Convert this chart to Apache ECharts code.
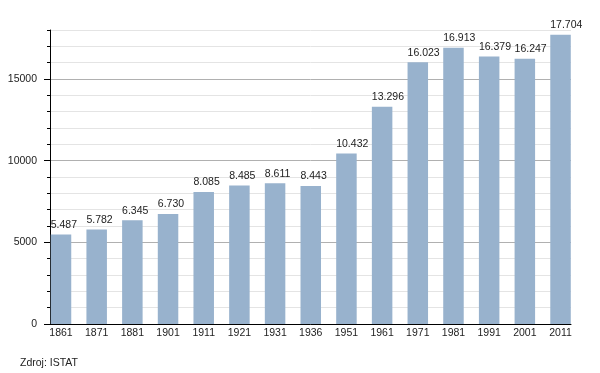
<!DOCTYPE html>
<html>
<head>
<meta charset="utf-8">
<script src="https://cdn.jsdelivr.net/npm/echarts@6/dist/echarts.min.js"></script>
<style>html,body{margin:0;padding:0;background:#fff}#c{width:600px;height:373px}</style>
</head>
<body>
<div id="c"></div>
<script>
const years = ['1861','1871','1881','1901','1911','1921','1931','1936','1951','1961','1971','1981','1991','2001','2011'];
const population = [5487, 5782, 6345, 6730, 8085, 8485, 8611, 8443, 10432, 13296, 16023, 16913, 16379, 16247, 17704];
const yTickLabels = [0, 5000, 10000, 15000];
const sourceText = 'Zdroj: ISTAT';

const FONT = 'Liberation Sans, Arial, sans-serif';
function fmt(v) {
  const t = Math.floor(v / 1000), r = v % 1000;
  return t > 0 ? t + '.' + String(r).padStart(3, '0') : String(r);
}
const chart = echarts.init(document.getElementById('c'), null, {renderer: 'canvas'});
const gTop = 30, gBottom = 49;
const BAR_W = 20.5;
chart.setOption({
  animation: false,
  backgroundColor: '#ffffff',
  textStyle: {fontFamily: FONT},
  grid: [
    {left: 50, right: 29, top: gTop, bottom: gBottom},
    {left: 43.16, width: 535.2, top: gTop, bottom: gBottom}
  ],
  xAxis: [
    {gridIndex: 0, type: 'value', min: 0, max: 1,
     axisLine: {show: true, lineStyle: {color: '#000', width: 1}},
     axisTick: {show: false}, axisLabel: {show: false}, splitLine: {show: false}},
    {gridIndex: 1, type: 'category', data: years, boundaryGap: true,
     axisLine: {show: false}, axisTick: {show: false},
     axisLabel: {color: '#222', fontSize: 10.5, fontFamily: FONT, margin: 4, interval: 0}}
  ],
  yAxis: [
    {gridIndex: 0, type: 'value', min: 0, max: 18000, interval: 1000, position: 'left',
     axisLine: {show: true, lineStyle: {color: '#000', width: 1}},
     axisTick: {show: true, length: 3, lineStyle: {color: '#000'}},
     axisLabel: {color: '#222', fontSize: 10.5, fontFamily: FONT, margin: 13,
       formatter: v => (yTickLabels.indexOf(v) >= 0 ? String(v) : '')},
     splitLine: {show: true, lineStyle: {width: 1,
       color: ['#b0b0b0', '#e4e4e4', '#e4e4e4', '#e4e4e4', '#e4e4e4']}}},
    {gridIndex: 0, type: 'value', min: 0, max: 18000, position: 'left',
     axisLine: {show: false},
     axisTick: {show: true, length: 6, customValues: yTickLabels, lineStyle: {color: '#000'}},
     axisLabel: {show: false}, splitLine: {show: false}},
    {gridIndex: 1, type: 'value', min: 0, max: 18000, show: false}
  ],
  series: [{
    type: 'bar', xAxisIndex: 1, yAxisIndex: 2, data: population,
    barWidth: BAR_W,
    itemStyle: {color: '#98b2cd'},
    label: {show: true, position: 'top', distance: 4, align: 'left', offset: [-BAR_W / 2, 0],
      color: '#222', fontSize: 10.5, fontFamily: FONT, formatter: p => fmt(p.value)}
  }],
  graphic: [{
    type: 'text', left: 20, top: 358,
    style: {text: sourceText, fill: '#222', font: '10.5px ' + FONT}
  }]
});
</script>
</body>
</html>
